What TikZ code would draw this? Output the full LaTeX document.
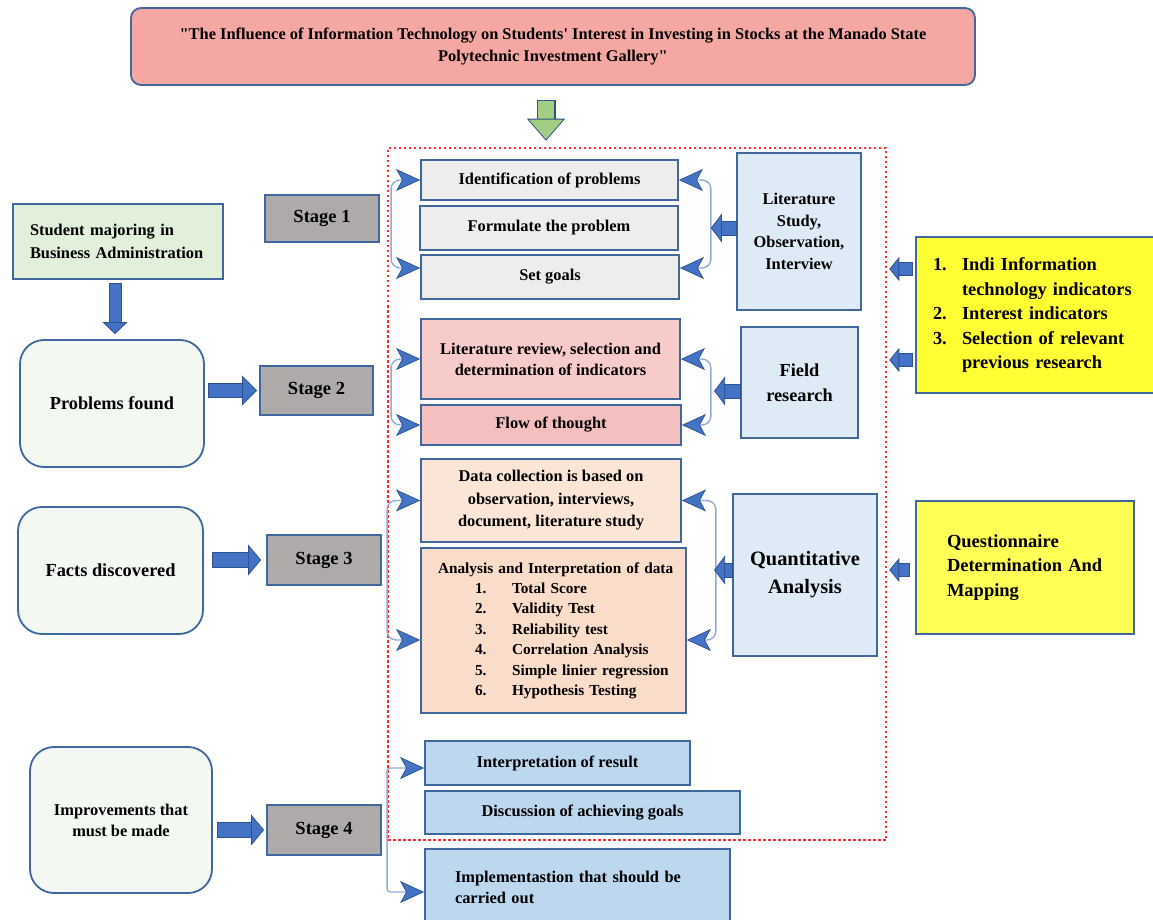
\documentclass[tikz,border=0pt]{standalone}
\usepackage{fontspec}
\setmainfont{Liberation Serif}[Ligatures=TeXOff]
\usetikzlibrary{arrows.meta,calc}
\definecolor{bord}{HTML}{41679F}
\definecolor{ablue}{HTML}{4472C4}
\definecolor{adark}{HTML}{2F528F}
\definecolor{cblue}{HTML}{8FAADC}
\definecolor{salmon}{HTML}{F4A7A3}
\definecolor{stagegray}{HTML}{AEAAAA}
\definecolor{stugreen}{HTML}{E2EFDA}
\definecolor{roundfill}{HTML}{F3F8F3}
\definecolor{lgray}{HTML}{EDEDED}
\definecolor{pinkA}{HTML}{F8CBCB}
\definecolor{pinkB}{HTML}{F4BFBF}
\definecolor{peachA}{HTML}{FBE5D6}
\definecolor{peachB}{HTML}{F9DCC9}
\definecolor{lblue}{HTML}{BDD7EE}
\definecolor{rblue}{HTML}{DEEBF7}
\definecolor{yelA}{HTML}{FFFF33}
\definecolor{yelB}{HTML}{FFFF55}
\definecolor{garrow}{HTML}{A2CD82}
\definecolor{dotred}{HTML}{FF2A2A}
\newcommand\fsz[2]{\fontsize{#1}{#2}\selectfont}
\tikzset{
  box/.style={draw=bord, line width=1.8pt, inner sep=0pt, align=center,
    font=\bfseries\fsz{16.4}{21.5}},
  rbox/.style={box, rounded corners=24pt, fill=roundfill},
  stagebox/.style={box, fill=stagegray, font=\bfseries\fsz{18.5}{22}},
  curv/.style={draw=cblue, line width=1.4pt, rounded corners=9pt,
    {Stealth[length=24pt,width=22pt,inset=6pt,fill=ablue,color=adark,line width=0.7pt]}-{Stealth[length=24pt,width=22pt,inset=6pt,fill=ablue,color=adark,line width=0.7pt]}},
  barrow/.style n args={6}{line width=#1, draw=#6,
    -{Triangle[length=#3,width=#4,fill=#6,color=adark,line width=0.8pt]},
    preaction={draw=adark, line width=#2, -, shorten >=#5, shorten <=-0.8pt}},
}
\begin{document}
\begin{tikzpicture}[x=1pt,y=-1pt]
\clip (0,0) rectangle (1153,920);
\fill[white] (0,0) rectangle (1153,920);

% dotted frame
\node[draw=dotred, line width=2.5pt, dash pattern=on 2.5pt off 2.5pt,
  minimum width=498pt, minimum height=692pt, inner sep=0pt] (frame) at (637,494) {};

% title
\node[box, fill=salmon, rounded corners=10pt, minimum width=844pt, minimum height=77pt,
  font=\bfseries\fsz{16.4}{22}] (title) at (553,46.5)
  {"The Influence of Information Technology on Students' Interest in Investing in Stocks at the Manado State\\Polytechnic Investment Gallery"};

% left column
\node[box, fill=stugreen, minimum width=210pt, minimum height=75pt, text width=176pt,
  inner xsep=17pt, align=left, font=\bfseries\fsz{16.4}{23}] (student) at (118,241.5)
  {Student majoring in\\Business Administration};
\node[rbox, minimum width=184pt, minimum height=127pt, font=\bfseries\fsz{18.3}{22}] (problems) at (112,403.5) {Problems found};
\node[rbox, minimum width=185pt, minimum height=127pt, font=\bfseries\fsz{18.4}{22}] (facts) at (110.5,570.5) {Facts discovered};
\node[rbox, minimum width=182pt, minimum height=146pt, font=\bfseries\fsz{16.4}{21}] (improve) at (121,820) {Improvements that\\must be made};

% stages
\node[stagebox, minimum width=114pt, minimum height=47pt] (stage1) at (322,218.5) {Stage 1};
\node[stagebox, minimum width=113pt, minimum height=49pt] (stage2) at (316.5,390.5) {Stage 2};
\node[stagebox, minimum width=114pt, minimum height=50pt] (stage3) at (324,560) {Stage 3};
\node[stagebox, minimum width=114pt, minimum height=50pt] (stage4) at (324,830) {Stage 4};

% center column
\node[box, fill=lgray, minimum width=257pt, minimum height=40pt] (idp) at (549.5,180) {Identification of problems};
\node[box, fill=lgray, minimum width=258pt, minimum height=44pt] (form) at (549,228) {Formulate the problem};
\node[box, fill=lgray, minimum width=258pt, minimum height=44pt] (goals) at (550,277) {Set goals};
\node[box, fill=pinkA, minimum width=259pt, minimum height=80pt, font=\bfseries\fsz{16.4}{21}] (litrev) at (550.5,359)
  {Literature review, selection and\\determination of indicators};
\node[box, fill=pinkB, minimum width=260pt, minimum height=40pt] (flow) at (551,425) {Flow of thought};
\node[box, fill=peachA, minimum width=260pt, minimum height=83pt, font=\bfseries\fsz{16.4}{22.5}] (datacol) at (551,500.5)
  {Data collection is based on\\observation, interviews,\\document, literature study};
\node[box, fill=peachB, minimum width=265pt, minimum height=165pt, text width=240pt, inner xsep=12.5pt,
  align=left, font=\bfseries\fsz{15.3}{20.4}] (anal) at (553.5,630.5)
  {\hspace*{4.5pt}Analysis and Interpretation of data\\
   \hspace*{41.5pt}\makebox[37pt][l]{1.}Total Score\\
   \hspace*{41.5pt}\makebox[37pt][l]{2.}Validity Test\\
   \hspace*{41.5pt}\makebox[37pt][l]{3.}Reliability test\\
   \hspace*{41.5pt}\makebox[37pt][l]{4.}Correlation Analysis\\
   \hspace*{41.5pt}\makebox[37pt][l]{5.}Simple linier regression\\
   \hspace*{41.5pt}\makebox[37pt][l]{6.}Hypothesis Testing};
\node[box, fill=lblue, minimum width=265pt, minimum height=44pt] (interp) at (557.5,763) {Interpretation of result};
\node[box, fill=lblue, minimum width=315pt, minimum height=43pt] (disc) at (582.5,812.5) {Discussion of achieving goals};
\node[box, fill=lblue, minimum width=305pt, minimum height=77pt, text width=245pt, inner xsep=30pt,
  align=left, font=\bfseries\fsz{16.4}{21}] (impl) at (577.5,887.5)
  {Implementastion that should be\\carried out};

% right column
\node[box, fill=rblue, minimum width=124pt, minimum height=157pt, font=\bfseries\fsz{16.4}{21.7}] (litstudy) at (799,231.5)
  {Literature\\Study,\\Observation,\\Interview};
\node[box, fill=rblue, minimum width=117pt, minimum height=111pt, font=\bfseries\fsz{18.3}{25}] (field) at (799.5,382.5)
  {Field\\research};
\node[box, fill=rblue, minimum width=144pt, minimum height=162pt, font=\bfseries\fsz{20.4}{28}] (quant) at (805,575)
  {Quantitative\\Analysis};

% yellow boxes
\node[box, fill=yelA, minimum width=249pt, minimum height=156pt, text width=215pt, inner xsep=17pt,
  align=left, font=\bfseries\fsz{18.4}{24.5}] (indic) at (1040.5,315)
  {\makebox[29pt][l]{1.}Indi Information\\
   \hspace*{29pt}technology indicators\\
   \makebox[29pt][l]{2.}Interest indicators\\
   \makebox[29pt][l]{3.}Selection of relevant\\
   \hspace*{29pt}previous research};
\node[box, fill=yelB, minimum width=218pt, minimum height=133pt, text width=156pt, inner xsep=31pt,
  align=left, font=\bfseries\fsz{18.5}{24.5}] (quest) at (1025,567.5)
  {Questionnaire\\\mbox{Determination And}\\Mapping};

% green arrow from title
\draw[barrow={16pt}{19pt}{22pt}{38pt}{20pt}{garrow}] ($(title.south)+(-7,15)$) -- ($(frame.north -| title.south)+(-7,-6)$);

% left block arrows
\draw[barrow={11pt}{13pt}{12pt}{25pt}{11pt}{ablue}] ($(student.south)+(-3,4)$) -- ($(problems.north -| student.south)+(-3,-5)$);
\draw[barrow={13pt}{15pt}{15pt}{30pt}{14pt}{ablue}] ($(problems.east |- stage2.west)+(4,0)$) -- ($(stage2.west)+(-2,0)$);
\draw[barrow={14pt}{16pt}{13pt}{31pt}{12pt}{ablue}] ($(facts.east |- stage3.west)+(9,0)$) -- ($(stage3.west)+(-5,0)$);
\draw[barrow={14pt}{16pt}{13pt}{31pt}{12pt}{ablue}] ($(improve.east |- stage4.west)+(5,0)$) -- ($(stage4.west)+(-2,0)$);

% curved connectors stage 1
\coordinate (r1) at ($(idp.east)+(32,0)$);
\draw[curv] (idp.west) -- ++(-29,0) |- ($(goals.west)+(0,-9)$);
\draw[curv] (idp.east) -- (r1) |- ($(goals.east)+(0,-9)$);
\draw[barrow={13pt}{15pt}{11pt}{29pt}{10pt}{ablue}] (litstudy.west |- form.east) -- (r1 |- form.east);

% stage 2
\coordinate (r2) at ($(litrev.east)+(30,0)$);
\draw[curv] (litrev.west) -- ++(-29,0) |- (flow.west);
\draw[curv] (litrev.east) -- (r2) |- (flow.east);
\draw[barrow={13pt}{15pt}{11pt}{29pt}{10pt}{ablue}] ($(field.west)+(0,8.5)$) -- ++(-26,0);

% stage 3
\draw[curv] (datacol.west) -- ++(-33,0) |- ($(anal.west)+(0,9.5)$);
\draw[curv] (datacol.east) -- ++(34,0) |- ($(anal.east)+(0,9.5)$);
\draw[barrow={13pt}{15pt}{11pt}{29pt}{10pt}{ablue}] ($(quant.west)+(0,-5)$) -- ++(-18,0);

% stage 4
\draw[curv, rounded corners=3pt] ($(interp.west)+(0,5)$) -- ++(-37,0) |- ($(impl.west)+(0,4.5)$);

% yellow arrows
\draw[barrow={12pt}{14pt}{10pt}{24pt}{9pt}{ablue}] ($(indic.west)+(-3,-46)$) -- ($(frame.east |- indic.west)+(2,-46)$);
\draw[barrow={12pt}{14pt}{10pt}{24pt}{9pt}{ablue}] ($(indic.west)+(-3,45)$) -- ($(frame.east |- indic.west)+(2,45)$);
\draw[barrow={12pt}{14pt}{10pt}{24pt}{9pt}{ablue}] ($(quest.west)+(-6,2.5)$) -- ($(frame.east |- quest.west)+(2,2.5)$);
\end{tikzpicture}
\end{document}
